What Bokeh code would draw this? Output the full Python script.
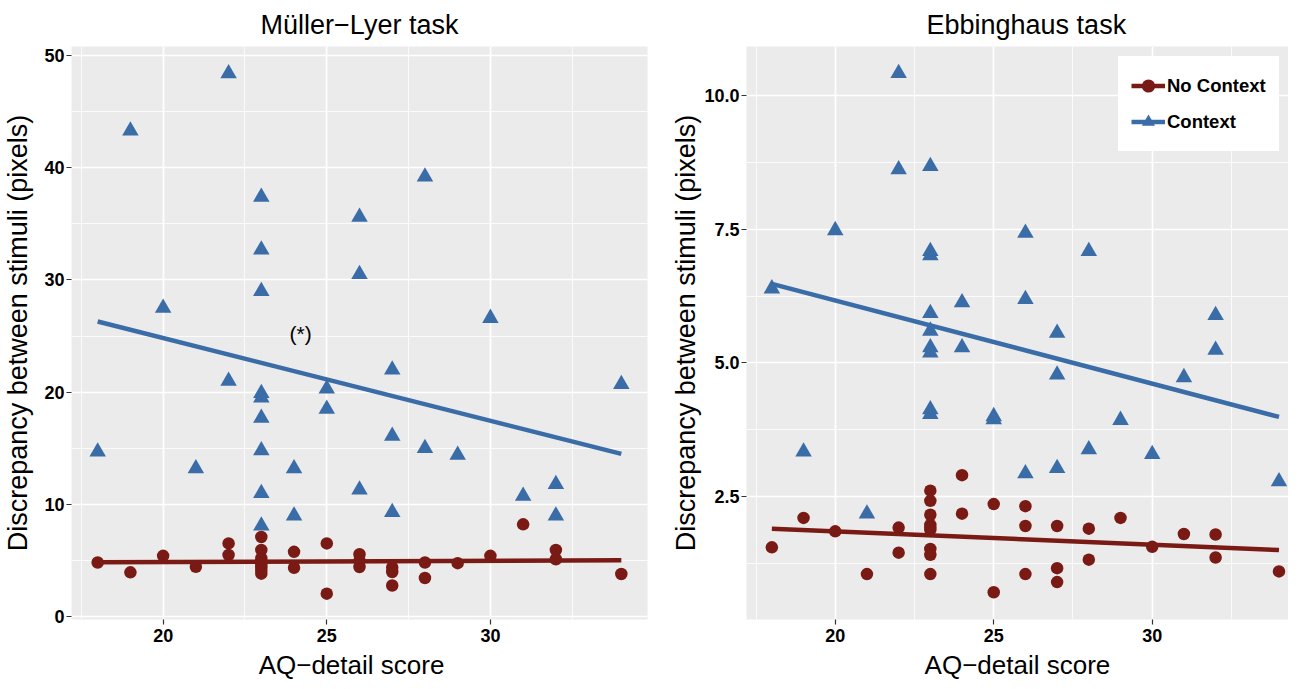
from bokeh.plotting import figure
from bokeh.models import (FixedTicker, Legend, LegendItem, Range1d,
                          PrintfTickFormatter, BasicTickFormatter)
from bokeh.layouts import row, column
from bokeh.embed import file_html
from bokeh.resources import INLINE
from bokeh.core.properties import value

# ---------------- data ----------------
aq_score = [18, 19, 20, 21, 22, 22,
            23, 23, 23, 23, 23, 23, 23, 23, 23,
            24, 24, 25, 25, 26, 26, 26, 27, 27, 27,
            28, 28, 29, 30, 31, 32, 32, 34]

ml_no_context = [4.83, 3.95, 5.42, 4.45, 6.53, 5.50,
                 7.10, 5.94, 5.21, 4.95, 4.77, 4.55, 4.33, 4.10, 3.83,
                 5.78, 4.36, 6.53, 2.05, 5.56, 5.00, 4.43, 4.39, 3.98, 2.78,
                 4.83, 3.45, 4.77, 5.42, 8.23, 5.94, 5.12, 3.80]

ml_context = [14.7, 43.3, 27.5, 13.2, 48.4, 21.0,
              37.4, 32.7, 29.0, 19.9, 19.5, 17.7, 14.8, 11.0, 8.1,
              13.2, 9.0, 20.3, 18.5, 35.6, 30.5, 11.3, 22.0, 16.1, 9.3,
              39.2, 15.0, 14.4, 26.6, 10.75, 11.8, 9.0, 20.7]

eb_no_context = [1.55, 2.10, 1.85, 1.05, 1.92, 1.45,
                 2.61, 2.42, 2.16, 1.97, 1.92, 1.88, 1.52, 1.41, 1.05,
                 2.90, 2.18, 2.36, 0.71, 2.32, 1.95, 1.05, 1.95, 1.16, 0.90,
                 1.90, 1.32, 2.10, 1.56, 1.80, 1.79, 1.36, 1.10]

eb_context = [6.39, 3.34, 7.48, 2.18, 10.42, 8.62,
              8.68, 7.09, 7.01, 5.93, 5.60, 5.29, 5.19, 4.13, 4.04,
              6.13, 5.29, 4.00, 3.94, 7.43, 6.19, 2.93, 5.56, 4.78, 3.03,
              7.09, 3.38, 3.93, 3.29, 4.73, 5.89, 5.24, 2.78]

fit_x = [18, 34]
ml_fit_no_context = [4.85, 5.02]
ml_fit_context = [26.3, 14.5]
eb_fit_no_context = [1.90, 1.50]
eb_fit_context = [6.48, 3.99]

x_ticks = [20, 25, 30]
x_minor = [17.5, 22.5, 27.5, 32.5]
ml_y_ticks = [0, 10, 20, 30, 40, 50]
ml_y_minor = [5, 15, 25, 35, 45]
eb_y_ticks = [2.5, 5.0, 7.5, 10.0]
eb_y_minor = [1.25, 3.75, 6.25, 8.75]

note_x = [24.2]
note_y = [25.2]
note_text = ["(*)"]

titles = ["Müller−Lyer task", "Ebbinghaus task"]
x_label = "AQ−detail score"
y_label = "Discrepancy between stimuli (pixels)"
series_labels = ["No Context", "Context"]

# ---------------- style ----------------
FONT = "Liberation Sans"
RED = "#7A1A14"
BLUE = "#3A6CA8"
PANEL_BG = "#EBEBEB"
BORDER_TOP = 40
FRAME_H = 573
BORDER_BOTTOM = 31
XLAB_H = 29          # height of the strip holding the x-axis title
X_START = 17.2
X_LABEL_POS = 26.0


def make_panel(title, frame_w, border_left, border_right, x_range, y_start, y_end,
               y_ticks, y_minor, y_fmt, ylab_standoff, ytick_standoff,
               title_align, title_offset):
    p = figure(frame_width=frame_w, frame_height=FRAME_H,
               x_range=x_range, y_range=Range1d(y_start, y_end),
               output_backend="svg", toolbar_location=None, tools="",
               min_border_left=border_left, min_border_right=border_right,
               min_border_top=BORDER_TOP, min_border_bottom=BORDER_BOTTOM,
               background_fill_color=PANEL_BG, border_fill_color="white",
               outline_line_color=None, title=title)
    p.title.align = title_align
    p.title.offset = title_offset
    p.title.text_font = FONT
    p.title.text_font_size = "27px"
    p.title.text_font_style = "normal"
    p.title.text_color = "black"
    p.title.standoff = 14

    xt = FixedTicker(ticks=x_ticks, minor_ticks=x_minor)
    yt = FixedTicker(ticks=y_ticks, minor_ticks=y_minor)
    p.xaxis.ticker = xt
    p.yaxis.ticker = yt
    p.xgrid.ticker = xt
    p.ygrid.ticker = yt
    p.yaxis.formatter = y_fmt
    for g in (p.xgrid, p.ygrid):
        g.grid_line_color = "white"
        g.grid_line_width = 1.7
        g.minor_grid_line_color = "white"
        g.minor_grid_line_width = 0.8

    for ax in (p.xaxis[0], p.yaxis[0]):
        ax.axis_line_color = None
        ax.major_tick_line_color = "#333333"
        ax.major_tick_line_width = 1.2
        ax.major_tick_out = 5
        ax.major_tick_in = 0
        ax.minor_tick_line_color = None
        ax.major_label_text_font = FONT
        ax.major_label_text_font_style = "bold"
        ax.major_label_text_font_size = "18px"
        ax.major_label_text_color = "black"
        ax.axis_label_text_font = FONT
        ax.axis_label_text_font_size = "27px"
        ax.axis_label_text_font_style = "normal"
        ax.axis_label_text_color = "black"
    p.xaxis.major_label_standoff = 4
    p.yaxis.major_label_standoff = ytick_standoff
    p.yaxis.axis_label = y_label
    p.yaxis.axis_label_standoff = ylab_standoff
    return p


def make_xlabel_strip(frame_w, border_left, border_right, x_range):
    s = figure(frame_width=frame_w, frame_height=XLAB_H,
               x_range=x_range, y_range=Range1d(0, XLAB_H),
               output_backend="svg", toolbar_location=None, tools="",
               x_axis_location=None, y_axis_location=None,
               min_border_left=border_left, min_border_right=border_right,
               min_border_top=0, min_border_bottom=0,
               background_fill_color="white", border_fill_color="white",
               outline_line_color=None)
    s.grid.grid_line_color = None
    s.text([X_LABEL_POS], [XLAB_H / 2.0], text=[x_label], text_align="center",
           text_baseline="middle", text_font=value(FONT),
           text_font_size="26px", text_color="black")
    return s


def add_series(p, nc_vals, c_vals, nc_fit, c_fit):
    r_pts = p.scatter(aq_score, nc_vals, marker="circle", size=12.5,
                      fill_color=RED, line_color=None)
    b_pts = p.scatter(aq_score, c_vals, marker="triangle", size=16.5,
                      fill_color=BLUE, line_color=None)
    r_line = p.line(fit_x, nc_fit, line_color=RED, line_width=4.5)
    b_line = p.line(fit_x, c_fit, line_color=BLUE, line_width=4.5)
    return r_pts, b_pts, r_line, b_line


# left panel
xr1 = Range1d(X_START, 34.8)
p1 = make_panel(titles[0], 576, 63, 19, xr1, -0.25, 50.8,
                ml_y_ticks, ml_y_minor, BasicTickFormatter(), 8, 2, "center", 0)
add_series(p1, ml_no_context, ml_context, ml_fit_no_context, ml_fit_context)
p1.text(note_x, note_y, text=note_text, text_align="center",
        text_baseline="middle", text_font=value(FONT),
        text_font_size="21px", text_color="black")
s1 = make_xlabel_strip(576, 63, 19, xr1)

# right panel
xr2 = Range1d(X_START, 34.3)
p2 = make_panel(titles[1], 542, 80, 0, xr2, 0.2, 10.92,
                eb_y_ticks, eb_y_minor, PrintfTickFormatter(format="%.1f"), 0, 2,
                "left", 180)
r_pts, b_pts, r_line, b_line = add_series(p2, eb_no_context, eb_context,
                                          eb_fit_no_context, eb_fit_context)
key_bg = p2.quad(left=[], right=[], top=[], bottom=[],
                 fill_color="#F2F2F2", line_color=None)
s2 = make_xlabel_strip(542, 80, 0, xr2)

legend = Legend(items=[
    LegendItem(label=series_labels[0], renderers=[key_bg, r_line, r_pts]),
    LegendItem(label=series_labels[1], renderers=[key_bg, b_line, b_pts]),
])
legend.location = (372, 468)
legend.margin = 0
legend.padding = 0
legend.spacing = 3
legend.glyph_width = 34
legend.glyph_height = 33
legend.label_height = 33
legend.label_standoff = 2
legend.label_text_font = FONT
legend.label_text_font_style = "bold"
legend.label_text_font_size = "18.5px"
legend.label_text_color = "black"
legend.label_text_baseline = "middle"
# a white border stands in for the legend's padding
legend.border_line_color = "white"
legend.border_line_width = 13
legend.background_fill_color = "white"
legend.background_fill_alpha = 1.0
p2.add_layout(legend, "center")

layout = column(row(p1, p2), row(s1, s2))
open("out.html", "w").write(file_html(layout, INLINE, "AQ-detail plots"))
